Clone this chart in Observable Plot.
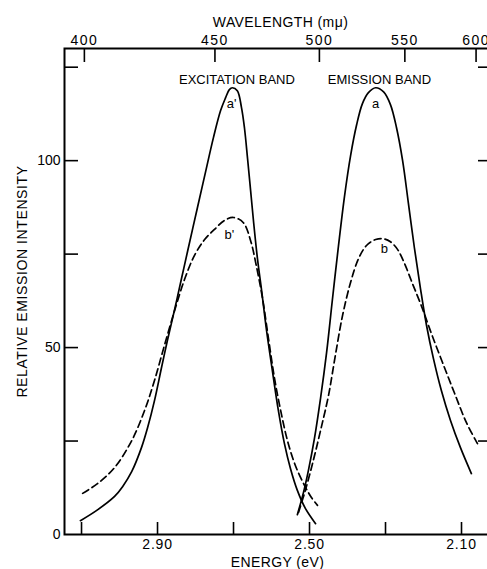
<!DOCTYPE html>
<html><head><meta charset="utf-8">
<script src="https://cdn.jsdelivr.net/npm/d3@7"></script>
<script src="https://cdn.jsdelivr.net/npm/@observablehq/plot@0.6"></script>
<style>
html,body{margin:0;padding:0;background:#fff;overflow:hidden}
</style></head><body><div id="chart"></div>
<script>
// eV·nm conversion as drawn on the figure's top axis
const HC = 1237;

// Excitation band, curve a' (solid)
const excASolidEnergy = [3.103,3.058,3.013,2.992,2.968,2.942,2.926,2.908,2.890,2.874,2.855,2.837,2.821,2.795,2.774,2.753,2.734,2.721,2.711,2.703,2.690,2.679,2.671,2.663,2.655,2.647,2.637,2.626,2.613,2.597,2.582,2.566,2.550,2.532,2.511,2.484];
const excASolidIntensity = [3.7,6.6,10.2,12.8,16.8,23.3,28.6,35.8,44.4,51.9,60.2,68.4,75.7,87.4,96.8,106.1,113.4,116.8,119.0,119.5,118.7,114.2,108.6,100.5,92.0,83.4,73.8,65.2,54.5,43.3,33.2,24.3,17.6,11.8,7.0,2.9];

// Excitation band, curve b' (dashed)
const excBDashedEnergy = [3.097,3.058,3.013,2.968,2.934,2.908,2.882,2.855,2.829,2.803,2.776,2.750,2.724,2.700,2.674,2.655,2.640,2.624,2.608,2.592,2.576,2.558,2.537,2.513,2.495,2.479];
const excBDashedIntensity = [11.0,13.6,17.9,25.1,33.2,41.2,50.5,59.9,68.2,74.6,78.9,81.6,84.0,84.8,83.4,78.6,71.9,63.4,52.4,41.7,33.2,25.1,18.4,13.1,9.9,7.8];

// Emission band, curve a (solid)
const emASolidEnergy = [2.532,2.516,2.503,2.487,2.471,2.455,2.440,2.424,2.408,2.392,2.376,2.361,2.345,2.326,2.305,2.287,2.271,2.255,2.240,2.224,2.208,2.192,2.174,2.153,2.129,2.103,2.074];
const emASolidIntensity = [5.3,11.2,17.1,25.7,36.4,48.7,62.6,77.0,90.4,101.3,109.6,115.2,118.2,119.5,118.4,115.0,108.8,100.0,88.8,76.7,65.8,55.9,47.1,38.5,30.5,23.3,16.3];

// Emission band, curve b (dashed)
const emBDashedEnergy = [2.529,2.511,2.490,2.471,2.450,2.432,2.413,2.392,2.371,2.350,2.326,2.305,2.287,2.268,2.250,2.229,2.205,2.179,2.150,2.118,2.087,2.058];
const emBDashedIntensity = [5.9,11.8,19.8,27.8,37.2,47.9,58.6,67.4,73.8,77.3,78.9,79.1,78.3,76.2,72.5,67.1,61.0,53.7,46.0,37.7,29.9,24.3];

// Axis ticks
const energyTicks = [3.10,2.90,2.70,2.50,2.30,2.10];
const energyLabels = [2.90,2.50,2.10];
const wavelengthTicks = [400,450,500,550,600];
const intensityTicks = [25,50,75,100,125];
const intensityLabels = [0,50,100];

// Annotations
const bandNames = ["EXCITATION BAND","EMISSION BAND"];
const bandEnergy = [2.691,2.316];
const bandIntensity = [120.6,120.6];
const curveNames = ["a'","a","b'","b"];
const curveNameEnergy = [2.705,2.326,2.711,2.303];
const curveNameIntensity = [114.2,114.2,79.1,75.4];

const zip = (E, I) => E.map((e, i) => ({energy: e, intensity: I[i]}));
const bands = bandNames.map((t, i) => ({t, energy: bandEnergy[i], intensity: bandIntensity[i]}));
const names = curveNames.map((t, i) => ({t, energy: curveNameEnergy[i], intensity: curveNameIntensity[i]}));

const font = "'Liberation Sans', Arial, sans-serif";
const lineStyle = {x: "energy", y: "intensity", curve: "catmull-rom", stroke: "black", strokeWidth: 1.7};

const chart = Plot.plot({
  width: 487,
  height: 569,
  marginLeft: 64,
  marginRight: -3,
  marginTop: 48,
  marginBottom: 35,
  style: {fontFamily: font, fontSize: "14px", color: "black", background: "white", overflow: "visible"},
  x: {domain: [3.1448, 2.0237]},
  y: {domain: [0, 130]},
  marks: [
    Plot.frame({stroke: "black", strokeWidth: 2}),
    // bottom energy axis
    Plot.axisX({anchor: "bottom", ticks: energyTicks, tickSize: -12, tickFormat: () => "", label: null, strokeWidth: 1.6}),
    Plot.axisX({anchor: "bottom", ticks: energyLabels, tickSize: 0, tickPadding: 5, tickFormat: ".2f", label: null, fontSize: 14, fill: "black"}),
    // top wavelength axis
    Plot.axisX({anchor: "top", ticks: wavelengthTicks.map(w => HC / w), tickSize: -13, tickFormat: () => "", label: null, strokeWidth: 1.6}),
    Plot.axisX({anchor: "top", ticks: wavelengthTicks.map(w => HC / w), tickSize: 0, tickPadding: 4, tickFormat: d => String(Math.round(HC / d)), label: null, fontSize: 14, fill: "black"}),
    // left intensity axis
    Plot.axisY({anchor: "left", ticks: intensityTicks, tickSize: -14, tickFormat: () => "", label: null, strokeWidth: 1.6}),
    Plot.axisY({anchor: "left", ticks: intensityLabels, tickSize: 0, tickPadding: 4, label: null, fontSize: 14, fill: "black"}),
    // right inward ticks
    Plot.axisY({anchor: "right", ticks: intensityTicks, tickSize: -13, tickFormat: () => "", label: null, strokeWidth: 1.6}),
    // axis titles
    Plot.text(["WAVELENGTH (mμ)"], {frameAnchor: "top", dx: 3, dy: -22, lineAnchor: "bottom", textAnchor: "middle", fontSize: 14, fill: "black"}),
    Plot.text(["ENERGY (eV)"], {frameAnchor: "bottom", dy: 32, lineAnchor: "bottom", textAnchor: "middle", fontSize: 14, fill: "black"}),
    Plot.text(["RELATIVE EMISSION INTENSITY"], {frameAnchor: "left", dx: -38, dy: -10, rotate: -90, lineAnchor: "bottom", textAnchor: "middle", fontSize: 14, fill: "black"}),
    // curves
    Plot.line(zip(excASolidEnergy, excASolidIntensity), lineStyle),
    Plot.line(zip(excBDashedEnergy, excBDashedIntensity), {...lineStyle, strokeDasharray: "7,4"}),
    Plot.line(zip(emASolidEnergy, emASolidIntensity), lineStyle),
    Plot.line(zip(emBDashedEnergy, emBDashedIntensity), {...lineStyle, strokeDasharray: "7,4"}),
    // annotations
    Plot.text(bands, {x: "energy", y: "intensity", text: "t", lineAnchor: "bottom", fontSize: 13, fill: "black"}),
    Plot.text(names, {x: "energy", y: "intensity", text: "t", lineAnchor: "bottom", fontSize: 13, fill: "black"})
  ]
});
document.getElementById("chart").appendChild(chart);

// hand-lettered look: widen spacing of some labels
const spacing = {"WAVELENGTH (mμ)": "0.4px", "ENERGY (eV)": "0.4px", "RELATIVE EMISSION INTENSITY": "0.6px",
  "2.90": "0.8px", "2.50": "0.8px", "2.10": "0.8px", "400": "1.5px", "450": "1.5px", "500": "1.5px", "550": "1.5px", "600": "1.5px"};
d3.select(chart).selectAll("text").each(function () {
  const s = spacing[this.textContent];
  if (s) d3.select(this).style("letter-spacing", s);
});
</script>
</body></html>
